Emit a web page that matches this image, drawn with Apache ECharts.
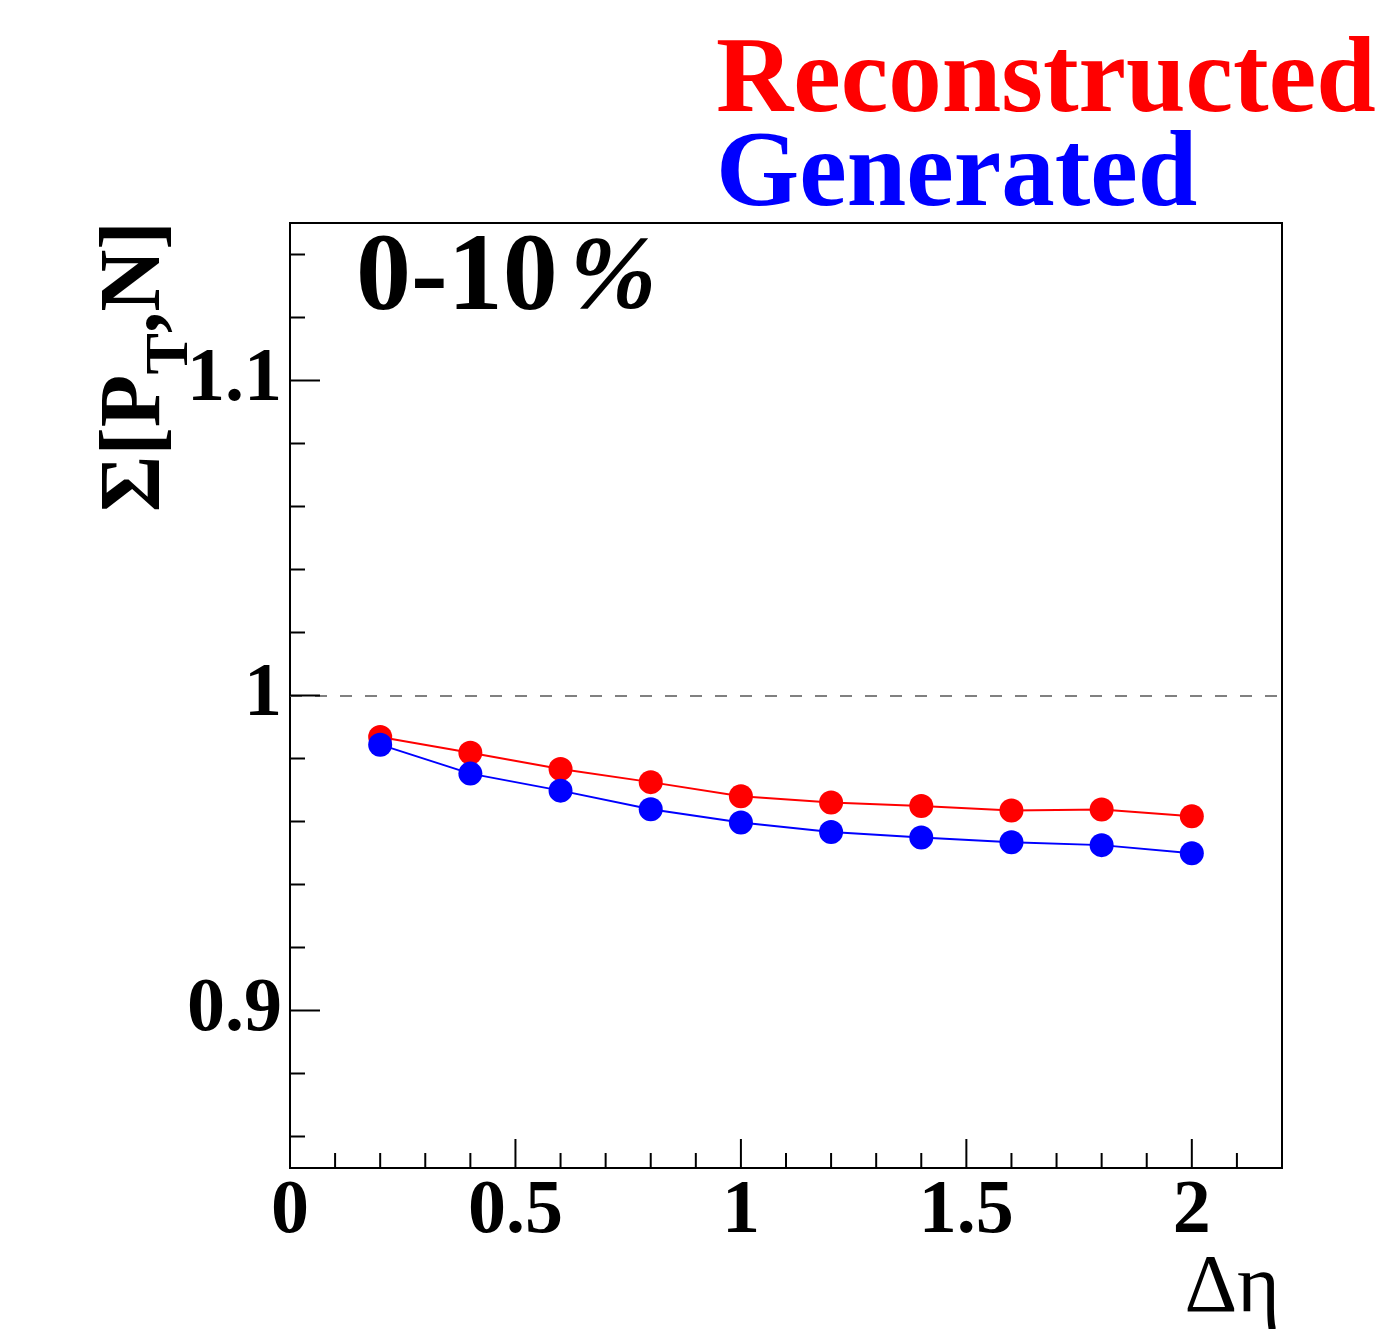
<!DOCTYPE html>
<html>
<head>
<meta charset="utf-8">
<script src="https://cdn.jsdelivr.net/npm/echarts@6/dist/echarts.min.js"></script>
<style>
    html, body { margin: 0; padding: 0; background: #fff; }
    #chart { width: 1380px; height: 1330px; }
</style>
</head>
<body>
<div id="chart"></div>
<script>
// Δη bins
var deltaEta = [0.2, 0.4, 0.6, 0.8, 1.0, 1.2, 1.4, 1.6, 1.8, 2.0];
// Σ[PT,N] values
var reconstructed = [0.9868, 0.9818, 0.9767, 0.9725, 0.9680, 0.9660, 0.9649, 0.9635, 0.9638, 0.9617];
var generated = [0.9844, 0.9752, 0.9698, 0.9639, 0.9597, 0.9567, 0.9549, 0.9534, 0.9525, 0.9499];
// tick marks (ROOT style, left and bottom only)
var xTicks = [0.1, 0.2, 0.3, 0.4, 0.5, 0.6, 0.7, 0.8, 0.9, 1.0, 1.1, 1.2, 1.3, 1.4, 1.5, 1.6, 1.7, 1.8, 1.9, 2.0, 2.1];
var xMajor = [0.5, 1.0, 1.5, 2.0];
var yTicks = [0.86, 0.88, 0.90, 0.92, 0.94, 0.96, 0.98, 1.00, 1.02, 1.04, 1.06, 1.08, 1.10, 1.12, 1.14];
var yMajor = [0.9, 1.0, 1.1];
var yLabels = ['0.9', '1', '1.1'];

var serif = "'Liberation Serif', 'DejaVu Serif', serif";

function isIn(arr, v) {
    for (var i = 0; i < arr.length; i++) {
        if (Math.abs(arr[i] - v) < 1e-6) return i;
    }
    return -1;
}

function pairs(xs, ys) {
    return xs.map(function (x, i) { return [x, ys[i]]; });
}

var chart = echarts.init(document.getElementById('chart'));

chart.setOption({
    animation: false,
    backgroundColor: '#fff',
    grid: {
        left: 290, top: 223, right: 98, bottom: 162,
        show: true, borderColor: '#000', borderWidth: 2, backgroundColor: 'transparent'
    },
    xAxis: {
        type: 'value', min: 0, max: 2.2, interval: 0.5,
        axisLine: { show: true, lineStyle: { color: '#000', width: 2 } },
        axisTick: { show: false },
        splitLine: { show: false },
        axisLabel: {
            margin: 6,
            color: '#000',
            fontFamily: serif, fontWeight: 'bold', fontSize: 76,
            formatter: function (v) {
                return isIn(xMajor.concat([0]), v) >= 0 ? String(v) : '';
            }
        }
    },
    yAxis: {
        type: 'value', min: 0.85, max: 1.15, interval: 0.05,
        axisLine: { show: true, lineStyle: { color: '#000', width: 2 } },
        axisTick: { show: false },
        splitLine: { show: false },
        axisLabel: {
            margin: 8,
            color: '#000',
            fontFamily: serif, fontWeight: 'bold', fontSize: 76,
            formatter: function (v) {
                var k = isIn(yMajor, v);
                return k >= 0 ? yLabels[k] : '';
            }
        }
    },
    graphic: [
        {
            type: 'text', left: 716, top: 30,
            style: { text: 'Reconstructed', fill: '#ff0000', font: 'bold 107px ' + serif }
        },
        {
            type: 'text', left: 716, top: 124,
            style: { text: 'Generated', fill: '#0000ff', font: 'bold 107px ' + serif }
        },
        {
            type: 'text', left: 356, top: 226,
            style: {
                text: '{a|0-10}{p|%}',
                fill: '#000',
                rich: {
                    a: { font: 'bold 110px ' + serif },
                    p: { font: 'bold italic 104px ' + serif, padding: [0, 0, 0, 12] }
                }
            }
        },
        {
            type: 'text', right: 100, top: 1248,
            style: { text: 'Δη', fill: '#000', font: '82px ' + serif }
        },
        {
            type: 'text', x: 72, y: 512, rotation: Math.PI / 2,
            style: {
                text: '{a|Σ[P}{s|T}{a|,N]}',
                fill: '#000',
                rich: {
                    a: { font: 'bold 86px ' + serif, lineHeight: 130, verticalAlign: 'middle' },
                    s: { font: 'bold 62px ' + serif, lineHeight: 130, verticalAlign: 'bottom' }
                }
            }
        }
    ],
    series: [
        {
            name: 'Reconstructed', type: 'line',
            data: pairs(deltaEta, reconstructed),
            symbol: 'circle', symbolSize: 24,
            itemStyle: { color: '#ff0000' },
            lineStyle: { color: '#ff0000', width: 2 },
            z: 3,
            markLine: {
                silent: true, symbol: 'none', label: { show: false },
                lineStyle: { color: '#808080', type: [12, 13], width: 2 },
                data: [{ yAxis: 1 }]
            }
        },
        {
            name: 'Generated', type: 'line',
            data: pairs(deltaEta, generated),
            symbol: 'circle', symbolSize: 24,
            itemStyle: { color: '#0000ff' },
            lineStyle: { color: '#0000ff', width: 2 },
            z: 4
        },
        {
            name: 'xticks', type: 'custom', silent: true, clip: false, z: 5,
            data: xTicks.map(function (v) { return [v, 0.85]; }),
            renderItem: function (params, api) {
                var p = api.coord([api.value(0), api.value(1)]);
                var len = isIn(xMajor, api.value(0)) >= 0 ? 29 : 15;
                return {
                    type: 'line',
                    shape: { x1: p[0], y1: p[1], x2: p[0], y2: p[1] - len },
                    style: { stroke: '#000', lineWidth: 2 }
                };
            }
        },
        {
            name: 'yticks', type: 'custom', silent: true, clip: false, z: 5,
            data: yTicks.map(function (v) { return [0, v]; }),
            renderItem: function (params, api) {
                var p = api.coord([api.value(0), api.value(1)]);
                var len = isIn(yMajor, api.value(1)) >= 0 ? 30 : 15;
                return {
                    type: 'line',
                    shape: { x1: p[0], y1: p[1], x2: p[0] + len, y2: p[1] },
                    style: { stroke: '#000', lineWidth: 2 }
                };
            }
        }
    ]
});
</script>
</body>
</html>
